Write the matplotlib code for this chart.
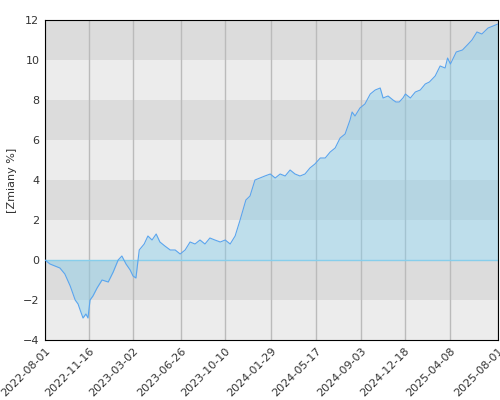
import matplotlib
matplotlib.use("Agg")
import matplotlib.pyplot as plt
import matplotlib.transforms as mtransforms
import numpy as np

start = np.datetime64("2022-08-01")

# (days since start, change in %)
points = [
    (0, 0), (12, -0.2), (24, -0.3), (36, -0.4), (48, -0.7), (61, -1.3), (73, -2.0),
    (80, -2.2), (85, -2.5), (92, -2.9), (99, -2.7), (104, -2.9), (109, -2.0),
    (116, -1.8), (126, -1.4), (138, -1.0), (153, -1.1), (165, -0.6), (177, 0.0),
    (186, 0.2), (196, -0.2), (206, -0.5), (213, -0.8), (220, -0.9), (228, 0.5),
    (240, 0.8), (249, 1.2), (259, 1.0), (269, 1.3), (278, 0.9), (290, 0.7),
    (303, 0.5), (315, 0.5), (327, 0.3), (339, 0.5), (351, 0.9), (363, 0.8),
    (375, 1.0), (387, 0.8), (399, 1.1), (411, 1.0), (424, 0.9), (436, 1.0),
    (448, 0.8), (460, 1.2), (472, 2.0), (479, 2.5), (486, 3.0), (496, 3.2),
    (508, 4.0), (520, 4.1), (532, 4.2), (545, 4.3), (557, 4.1), (569, 4.3),
    (581, 4.2), (593, 4.5), (605, 4.3), (617, 4.2), (629, 4.3), (641, 4.6),
    (653, 4.8), (666, 5.1), (678, 5.1), (690, 5.4), (702, 5.6), (714, 6.1),
    (726, 6.3), (738, 7.0), (743, 7.4), (750, 7.2), (762, 7.6), (774, 7.8),
    (787, 8.3), (799, 8.5), (811, 8.6), (818, 8.1), (830, 8.2), (842, 8.0),
    (849, 7.9), (857, 7.9), (866, 8.1), (872, 8.3), (884, 8.1), (896, 8.4),
    (908, 8.5), (920, 8.8), (930, 8.9), (944, 9.2), (956, 9.7), (968, 9.6),
    (974, 10.1), (981, 9.8), (995, 10.4), (1010, 10.5), (1024, 10.8),
    (1033, 11.0), (1045, 11.4), (1057, 11.3), (1072, 11.6), (1084, 11.7),
    (1096, 11.8),
]
tick_labels = ["2022-08-01", "2022-11-16", "2023-03-02", "2023-06-26", "2023-10-10",
               "2024-01-29", "2024-05-17", "2024-09-03", "2024-12-18", "2025-04-08",
               "2025-08-01"]

days = np.array([p[0] for p in points])
vals = np.array([p[1] for p in points])
dates = (start + days.astype("timedelta64[D]")).astype("datetime64[ms]").astype(object)
ticks = [np.datetime64(t).astype(object) for t in tick_labels]

fig = plt.figure(figsize=(5, 4), dpi=100)
ax = fig.add_axes([0.09, 0.15, 0.906, 0.8])

for i, lo in enumerate(range(-4, 12, 2)):
    ax.axhspan(lo, lo + 2, color="#ececec" if i % 2 == 0 else "#dcdcdc", lw=0, zorder=0)

ax.fill_between(dates, vals, 0, color="#87ceeb", alpha=0.45, lw=0, zorder=2)
ax.plot(dates, vals, color="#5aa5ee", lw=0.8, zorder=3)
ax.axhline(0, color="#87ceeb", lw=1, zorder=2)

ax.set_xlim(ticks[0], ticks[-1])
ax.set_ylim(-4, 12)
ax.set_yticks(range(-4, 13, 2))
ax.set_xticks(ticks)
ax.set_xticklabels(tick_labels, rotation=45, ha="right", rotation_mode="anchor")
shift = mtransforms.ScaledTranslation(3 / 100, 0, fig.dpi_scale_trans)
for lbl in ax.get_xticklabels():
    lbl.set_transform(lbl.get_transform() + shift)
ax.grid(axis="x", color="#bbbbbb", lw=1, zorder=1)
ax.set_axisbelow(True)
ax.tick_params(labelsize=8, colors="#333333", length=0, pad=4)
ax.set_ylabel("[Zmiany %]", fontsize=8, color="#333333")
for s in ax.spines.values():
    s.set_color("black")

fig.savefig("out.png")
